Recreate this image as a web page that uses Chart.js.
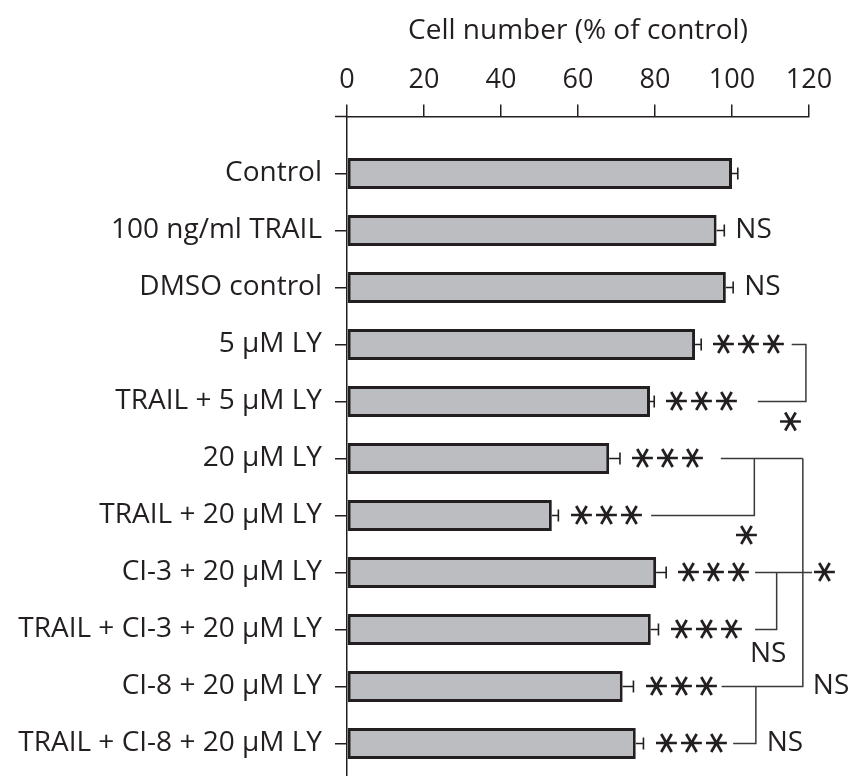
<!DOCTYPE html>
<html>
<head>
<meta charset="utf-8">
<script src="https://cdn.jsdelivr.net/npm/chart.js@4.4.1/dist/chart.umd.min.js"></script>
<style>
  html, body { margin: 0; padding: 0; background: #ffffff; }
  #wrap { width: 860px; height: 776px; }
</style>
</head>
<body>
<div id="wrap"><canvas id="chart" width="860" height="776"></canvas></div>
<script>
// Treatment groups, top to bottom
const categories = [
  'Control',
  '100 ng/ml TRAIL',
  'DMSO control',
  '5 μM LY',
  'TRAIL + 5 μM LY',
  '20 μM LY',
  'TRAIL + 20 μM LY',
  'CI-3 + 20 μM LY',
  'TRAIL + CI-3 + 20 μM LY',
  'CI-8 + 20 μM LY',
  'TRAIL + CI-8 + 20 μM LY'
];

// Cell number, % of control (mean) and its error
const cellNumber = [100, 96.0, 98.4, 90.4, 78.7, 68.1, 53.2, 80.3, 78.9, 71.6, 75.0];
const cellError  = [1.5, 2.0, 1.9, 1.6, 1.1, 2.8, 1.7, 2.6, 2.0, 2.8, 2.0];

// Significance versus control, per group
const significance = ['', 'NS', 'NS', '***', '***', '***', '***', '***', '***', '***', '***'];

// Axis ticks
const xTicks = [0, 20, 40, 60, 80, 100, 120];

// Pairwise comparison brackets: polylines in (value, group index) units
const bracketLines = [
  [[115.5, 3], [119.2, 3], [119.2, 4], [106.7, 4]],
  [[97.1, 5], [118.4, 5]],
  [[105.8, 5], [105.8, 6], [79.0, 6]],
  [[118.4, 5], [118.4, 9], [97.3, 9]],
  [[106.0, 7], [120.8, 7]],
  [[111.6, 7], [111.6, 8], [106.0, 8]],
  [[106.2, 9], [106.2, 10], [100.3, 10]]
];
const bracketLabels = [
  { text: '*',  x: 115.3, y: 4.36, align: 'center' },
  { text: '*',  x: 103.9, y: 6.35, align: 'center' },
  { text: '*',  x: 124.2, y: 7,    align: 'center' },
  { text: 'NS', x: 109.4, y: 8.43, align: 'center' },
  { text: 'NS', x: 121.0, y: 9,    align: 'left' },
  { text: 'NS', x: 109.0, y: 10,   align: 'left' }
];

const INK = '#231f20';
const FONT = "'Open Sans', 'Liberation Sans', sans-serif";

Chart.defaults.font.family = FONT;
Chart.defaults.color = INK;

// Draw one six-armed asterisk centred on (cx, cy)
function drawStar(ctx, cx, cy) {
  ctx.save();
  ctx.font = "40px 'DejaVu Sans'";
  ctx.textAlign = 'left';
  ctx.textBaseline = 'alphabetic';
  const m = ctx.measureText('\u2217');
  const w = m.actualBoundingBoxRight + m.actualBoundingBoxLeft;
  const s = 20 / w;
  const gx = (m.actualBoundingBoxRight - m.actualBoundingBoxLeft) / 2;
  const gy = (m.actualBoundingBoxDescent - m.actualBoundingBoxAscent) / 2;
  ctx.translate(cx, cy);
  ctx.rotate(Math.PI / 2);
  ctx.scale(s, s);
  ctx.fillStyle = INK;
  ctx.fillText('\u2217', -gx, -gy);
  ctx.restore();
}

function drawLabel(ctx, text, x, y, align) {
  if (text.indexOf('*') >= 0) {
    const pitch = 25, n = text.length;
    const total = pitch * (n - 1) + 20;
    let start = align === 'center' ? x - total / 2 : x;
    for (let k = 0; k < n; k++) drawStar(ctx, start + 10 + pitch * k, y);
  } else {
    ctx.save();
    ctx.font = '28px ' + FONT;
    ctx.fillStyle = INK;
    ctx.textAlign = align;
    ctx.textBaseline = 'middle';
    ctx.fillText(text, x, y);
    ctx.restore();
  }
}

const annotations = {
  id: 'annotations',
  afterDatasetsDraw(chart) {
    const ctx = chart.ctx;
    const xs = chart.scales.x, ys = chart.scales.y;
    ctx.save();
    // error bars
    ctx.strokeStyle = INK;
    ctx.lineWidth = 1.6;
    cellNumber.forEach((v, i) => {
      const x0 = xs.getPixelForValue(v);
      const x1 = xs.getPixelForValue(v + cellError[i]);
      const y = ys.getPixelForValue(i);
      ctx.beginPath();
      ctx.moveTo(x0, y); ctx.lineTo(x1, y);
      ctx.moveTo(x1, y - 6); ctx.lineTo(x1, y + 6);
      ctx.stroke();
    });
    // x-axis line continues a little past the origin
    ctx.beginPath();
    ctx.lineWidth = 1.5;
    ctx.moveTo(chart.chartArea.left - 12, chart.chartArea.top);
    ctx.lineTo(chart.chartArea.left, chart.chartArea.top);
    ctx.stroke();
    // significance versus control
    significance.forEach((s, i) => {
      if (!s) return;
      const gap = s === 'NS' ? 11 : 13;
      const x = xs.getPixelForValue(cellNumber[i] + cellError[i]) + gap;
      drawLabel(ctx, s, x, ys.getPixelForValue(i), 'left');
    });
    // comparison brackets
    ctx.strokeStyle = '#3a3a3a';
    ctx.lineWidth = 1.5;
    bracketLines.forEach(line => {
      ctx.beginPath();
      line.forEach((p, k) => {
        const px = xs.getPixelForValue(p[0]);
        const py = ys.getPixelForValue(p[1]);
        if (k === 0) ctx.moveTo(px, py); else ctx.lineTo(px, py);
      });
      ctx.stroke();
    });
    bracketLabels.forEach(l => {
      drawLabel(ctx, l.text, xs.getPixelForValue(l.x), ys.getPixelForValue(l.y), l.align);
    });
    ctx.restore();
  }
};

new Chart(document.getElementById('chart'), {
  type: 'bar',
  data: {
    datasets: [{
      data: cellNumber.map((v, i) => ({ x: v, y: i })),
      backgroundColor: '#bcbdc0',
      borderColor: INK,
      borderWidth: 3,
      borderSkipped: false,
      categoryPercentage: 1,
      barPercentage: 0.54
    }]
  },
  options: {
    indexAxis: 'y',
    responsive: false,
    animation: false,
    layout: { padding: { left: 0, right: 51, top: 0, bottom: 0 } },
    plugins: { legend: { display: false }, tooltip: { enabled: false } },
    scales: {
      x: {
        type: 'linear',
        position: 'top',
        min: 0,
        max: 120,
        afterBuildTicks: (scale) => { scale.ticks = xTicks.map(v => ({ value: v })); },
        afterFit: (scale) => { scale.height = 116.5; },
        ticks: { font: { size: 27 }, color: INK, padding: 8, maxRotation: 0 },
        grid: { drawOnChartArea: false, drawTicks: true, tickLength: 12, color: INK, lineWidth: 1.5 },
        border: { display: true, color: INK, width: 1.5 },
        title: { display: true, text: 'Cell number (% of control)', font: { size: 28 }, color: INK, padding: { top: 14, bottom: 0 } }
      },
      y: {
        type: 'linear',
        reverse: true,
        offset: false,
        min: -1,
        max: 10.57,
        afterBuildTicks: (scale) => { scale.ticks = categories.map((c, i) => ({ value: i })); },
        afterFit: (scale) => {
          scale.width = 347;
          scale.paddingTop = 0;
          scale.paddingBottom = 0;
        },
        ticks: {
          font: { size: 28 },
          color: INK,
          padding: 13,
          callback: (value) => categories[value]
        },
        grid: { offset: false, drawOnChartArea: false, drawTicks: true, tickLength: 12, color: INK, lineWidth: 1.5 },
        border: { display: true, color: INK, width: 1.5 }
      }
    }
  },
  plugins: [annotations]
});
</script>
</body>
</html>
